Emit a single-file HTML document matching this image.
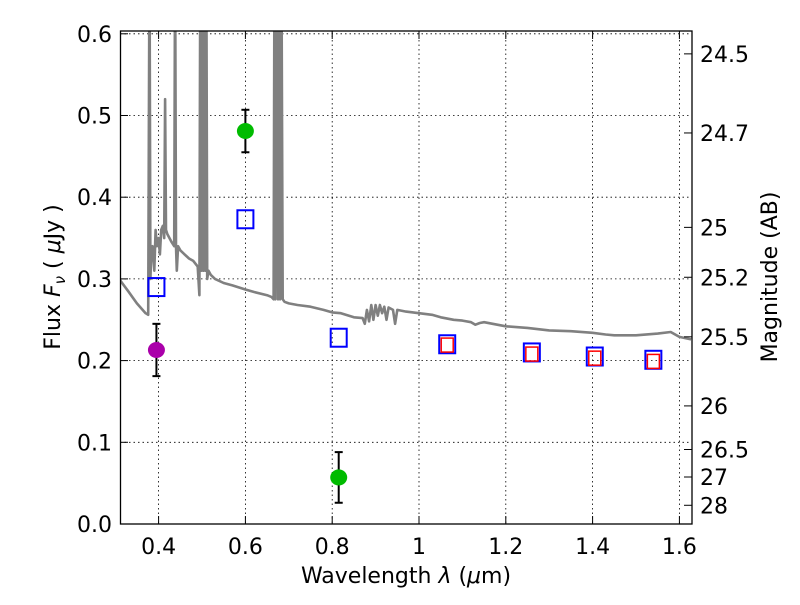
<!DOCTYPE html>
<html><head><meta charset="utf-8"><style>
body{margin:0;background:#fff;}
svg text{font-family:"DejaVu Sans","Liberation Sans",sans-serif;fill:#000;}
</style></head><body>
<svg id="chart" width="800" height="600" viewBox="0 0 800 600" xmlns="http://www.w3.org/2000/svg">
<defs><clipPath id="clip"><rect x="120.5" y="31" width="571.5" height="493"/></clipPath></defs>
<rect x="0" y="0" width="800" height="600" fill="#fff"/>
<g id="grid"></g>
<g id="spec" clip-path="url(#clip)"></g>
<g id="marks"></g>
<rect x="120.5" y="31" width="571.5" height="493" fill="none" stroke="#000" stroke-width="1.3"/>
<g id="axes"></g>
<text x="406" y="583" text-anchor="middle" font-size="22">Wavelength  <tspan font-style="italic">λ</tspan> (<tspan font-style="italic">μ</tspan>m)</text>
<text transform="translate(60,277) rotate(-90)" text-anchor="middle" font-size="22">Flux  <tspan font-style="italic">F</tspan><tspan font-style="italic" font-size="15" dy="5">ν</tspan><tspan dy="-5">  ( </tspan><tspan font-style="italic">μ</tspan>Jy )</text>
<text transform="translate(777,277) rotate(-90)" text-anchor="middle" font-size="22">Magnitude (AB)</text>
</svg>
<script>
const xTicks=[0.4,0.6,0.8,1.0,1.2,1.4,1.6];
const xTickLabels=["0.4","0.6","0.8","1","1.2","1.4","1.6"];
const yTicks=[0,0.1,0.2,0.3,0.4,0.5,0.6];
const yTickLabels=["0.0","0.1","0.2","0.3","0.4","0.5","0.6"];
const magTicks=[24.5,24.7,25,25.2,25.5,26,26.5,27,28];
const magLabels=["24.5","24.7","25","25.2","25.5","26","26.5","27","28"];
const specWave=[0.309,0.33,0.35,0.37,0.376,0.379,0.381,0.383,0.386,0.39,0.393,0.396,0.4,0.403,0.406,0.41,0.413,0.415,0.417,0.42,0.425,0.43,0.436,0.438,0.44,0.442,0.445,0.45,0.46,0.47,0.48,0.49,0.494,0.496,0.498,0.5,0.503,0.506,0.508,0.51,0.512,0.515,0.52,0.53,0.55,0.57,0.6,0.62,0.65,0.66,0.665,0.667,0.669,0.672,0.675,0.677,0.68,0.683,0.686,0.69,0.7,0.72,0.75,0.78,0.8,0.82,0.85,0.87,0.875,0.88,0.885,0.89,0.895,0.9,0.905,0.91,0.915,0.92,0.925,0.93,0.94,0.945,0.95,0.97,1.0,1.03,1.05,1.08,1.1,1.12,1.13,1.14,1.15,1.2,1.25,1.3,1.35,1.4,1.43,1.45,1.5,1.55,1.58,1.6,1.627];
const specFlux=[0.300,0.285,0.270,0.258,0.256,0.70,0.30,0.33,0.34,0.31,0.36,0.34,0.35,0.33,0.36,0.365,0.35,0.52,0.36,0.355,0.35,0.345,0.34,0.70,0.34,0.31,0.34,0.335,0.33,0.325,0.322,0.315,0.28,0.70,0.31,0.70,0.31,0.70,0.31,0.70,0.30,0.31,0.305,0.30,0.295,0.292,0.287,0.284,0.280,0.278,0.275,0.70,0.275,0.70,0.275,0.70,0.275,0.70,0.275,0.272,0.27,0.268,0.266,0.262,0.259,0.258,0.253,0.252,0.245,0.262,0.248,0.268,0.25,0.268,0.255,0.268,0.258,0.266,0.25,0.265,0.262,0.245,0.262,0.26,0.258,0.256,0.253,0.25,0.249,0.247,0.244,0.246,0.247,0.242,0.24,0.237,0.236,0.234,0.232,0.231,0.231,0.233,0.235,0.229,0.226];
const bandWave=[0.395,0.6,0.815,1.065,1.26,1.405,1.54];
const bandFlux=[0.290,0.373,0.228,0.220,0.210,0.205,0.201];
const redWave=[1.065,1.26,1.405,1.54];
const redFlux=[0.219,0.208,0.203,0.199];
const obsWave=[0.6,0.815];
const obsFlux=[0.481,0.057];
const obsErr=[0.026,0.031];
const uWave=[0.395];
const uFlux=[0.213];
const uErr=[0.032];

const NS="http://www.w3.org/2000/svg";
const X=v=>419+(v-1)*434;
const Y=f=>524-f*817;
function mk(tag,attrs,parent){const e=document.createElementNS(NS,tag);for(const k in attrs)e.setAttribute(k,attrs[k]);parent.appendChild(e);return e;}
const grid=document.getElementById('grid'),axes=document.getElementById('axes'),spec=document.getElementById('spec'),marks=document.getElementById('marks');
xTicks.forEach((v,i)=>{
 const g=mk('line',{x1:X(v),x2:X(v),y1:31,y2:524,stroke:'#000','stroke-width':0.8,'stroke-dasharray':'1.5,3'},grid);
 
 
 mk('line',{x1:X(v),x2:X(v),y1:524,y2:516,stroke:'#000'},axes);
 mk('line',{x1:X(v),x2:X(v),y1:31,y2:39,stroke:'#000'},axes);
 const t=mk('text',{x:X(v),y:554,'text-anchor':'middle','font-size':22},axes);t.textContent=xTickLabels[i];
 
 
});
yTicks.forEach((v,i)=>{
 const g=mk('line',{x1:120,x2:692,y1:Y(v),y2:Y(v),stroke:'#000','stroke-width':0.8,'stroke-dasharray':'1.5,3'},grid);
 
 
 mk('line',{x1:120,x2:128,y1:Y(v),y2:Y(v),stroke:'#000'},axes);
 const t=mk('text',{x:112,y:Y(v)+8,'text-anchor':'end','font-size':22},axes);t.textContent=yTickLabels[i];
 
 
});
magTicks.forEach((m,i)=>{
 const f=Math.pow(10,(23.9-m)/2.5);
 mk('line',{x1:684,x2:692,y1:Y(f),y2:Y(f),stroke:'#000'},axes);
 const t=mk('text',{x:700,y:Y(f)+8,'font-size':22},axes);t.textContent=magLabels[i];
 
 
});
const pts=specWave.map((w,i)=>X(w).toFixed(1)+','+Y(specFlux[i]).toFixed(1)).join(' ');
const pl=mk('polyline',{points:pts,fill:'none',stroke:'#808080','stroke-width':2.6,'stroke-linejoin':'round'},spec);


bandWave.forEach((w,i)=>{
 const r=mk('rect',{x:X(w)-8,y:Y(bandFlux[i])-9,width:16,height:18,fill:'none',stroke:'#0000ff','stroke-width':2},marks);
 
 
});
redWave.forEach((w,i)=>{
 const r=mk('rect',{x:X(w)-6,y:Y(redFlux[i])-7,width:12,height:14,fill:'none',stroke:'#ff0000','stroke-width':1.5},marks);
 
 
});
function errPoint(w,f,e,color,name){
 const x=X(w);
 mk('line',{x1:x,x2:x,y1:Y(f+e),y2:Y(f-e),stroke:'#000','stroke-width':2},marks);
 mk('line',{x1:x-4,x2:x+4,y1:Y(f+e),y2:Y(f+e),stroke:'#000','stroke-width':2},marks);
 mk('line',{x1:x-4,x2:x+4,y1:Y(f-e),y2:Y(f-e),stroke:'#000','stroke-width':2},marks);
 const c=mk('ellipse',{cx:x,cy:Y(f),rx:8.5,ry:8,fill:color},marks);
 
 
}
obsWave.forEach((w,i)=>errPoint(w,obsFlux[i],obsErr[i],'#00bb00','observed-flux-point'));
uWave.forEach((w,i)=>errPoint(w,uFlux[i],uErr[i],'#aa00aa','u-band-flux-point'));
</script>
</body></html>
